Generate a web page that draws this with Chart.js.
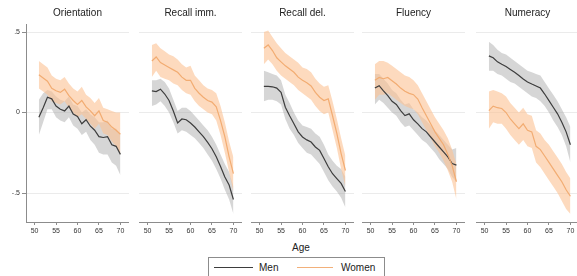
<!DOCTYPE html>
<html>
<head>
<meta charset="utf-8">
<script src="https://cdn.jsdelivr.net/npm/chart.js@4"></script>
<style>
  html, body { margin: 0; padding: 0; background: #fff; }
  body { width: 577px; height: 276px; position: relative; overflow: hidden; font-family: "Liberation Sans", Arial, sans-serif; }
  canvas { position: absolute; top: 0; }
  .ttl { position: absolute; top: 7px; font-size: 10px; line-height: 12px; color: #222; text-align: center; width: 120px; }
  #age { position: absolute; left: 271px; top: 242px; width: 60px; text-align: center; font-size: 10px; line-height: 12px; color: #222; }
  #legend { position: absolute; left: 208px; top: 257px; width: 177px; height: 28px; border: 1px solid #8c8c8c; box-sizing: border-box; }
  .lline { position: absolute; top: 9px; height: 0; border-top: 1.2px solid; }
  .ltxt { position: absolute; top: 4px; font-size: 10px; line-height: 12px; color: #222; }
</style>
</head>
<body>
<div id="age">Age</div>
<div id="legend">
  <div class="lline" style="left:5px;width:39px;border-color:#3d3d3d"></div>
  <div class="ltxt" style="left:50px">Men</div>
  <div class="lline" style="left:88px;width:36px;border-color:#f2b07a"></div>
  <div class="ltxt" style="left:132px">Women</div>
</div>
<script>
// ---- data ----
const ages = [51,52,53,54,55,56,57,58,59,60,61,62,63,64,65,66,67,68,69,70];
const panelTitles = ["Orientation", "Recall imm.", "Recall del.", "Fluency", "Numeracy"];
const xTickValues = [50, 55, 60, 65, 70];
const yTickValues = [-0.5, 0, 0.5];
const yTickLabels = ["-.5", "0", ".5"];
const seriesNames = ["Men", "Women"];

// Orientation
const orientMen     = [-0.03, 0.03, 0.095, 0.085, 0.04, 0.02, 0.01, 0.04, -0.01, -0.025, -0.07, -0.045, -0.085, -0.11, -0.15, -0.155, -0.15, -0.2, -0.21, -0.26];
const orientMenHi   = [0.08, 0.12, 0.14, 0.13, 0.1, 0.08, 0.07, 0.1, 0.05, 0.04, 0.0, 0.02, -0.01, -0.03, -0.06, -0.06, -0.05, -0.1, -0.1, -0.14];
const orientMenLo   = [-0.14, -0.06, 0.02, 0.02, -0.03, -0.05, -0.06, -0.03, -0.08, -0.1, -0.14, -0.12, -0.17, -0.2, -0.25, -0.26, -0.26, -0.31, -0.33, -0.39];
const orientWomen   = [0.235, 0.215, 0.195, 0.15, 0.135, 0.125, 0.145, 0.105, 0.075, 0.05, 0.075, 0.035, 0.01, -0.02, 0.01, -0.05, -0.06, -0.09, -0.11, -0.135];
const orientWomenHi = [0.32, 0.3, 0.28, 0.23, 0.21, 0.2, 0.22, 0.18, 0.15, 0.13, 0.16, 0.11, 0.09, 0.06, 0.09, 0.03, 0.02, 0.01, 0.0, 0.0];
const orientWomenLo = [0.15, 0.13, 0.11, 0.07, 0.06, 0.05, 0.07, 0.03, 0.0, -0.03, -0.01, -0.04, -0.07, -0.1, -0.07, -0.13, -0.14, -0.18, -0.21, -0.26];

// Recall immediate
const recImmMen     = [0.135, 0.13, 0.145, 0.115, 0.075, 0.01, -0.065, -0.04, -0.045, -0.065, -0.09, -0.12, -0.15, -0.185, -0.225, -0.275, -0.335, -0.4, -0.45, -0.54];
const recImmMenHi   = [0.2, 0.2, 0.21, 0.19, 0.15, 0.08, 0.01, 0.03, 0.03, 0.01, -0.02, -0.05, -0.08, -0.11, -0.15, -0.2, -0.26, -0.32, -0.37, -0.46];
const recImmMenLo   = [0.04, 0.05, 0.07, 0.04, 0.0, -0.06, -0.13, -0.11, -0.12, -0.14, -0.16, -0.19, -0.22, -0.26, -0.3, -0.35, -0.41, -0.48, -0.54, -0.63];
const recImmWomen   = [0.32, 0.345, 0.31, 0.295, 0.28, 0.265, 0.25, 0.22, 0.2, 0.2, 0.15, 0.12, 0.095, 0.075, 0.065, 0.035, -0.05, -0.15, -0.275, -0.38];
const recImmWomenHi = [0.42, 0.43, 0.4, 0.38, 0.36, 0.35, 0.33, 0.3, 0.28, 0.29, 0.23, 0.2, 0.17, 0.15, 0.14, 0.12, 0.04, -0.06, -0.18, -0.28];
const recImmWomenLo = [0.22, 0.26, 0.22, 0.21, 0.2, 0.18, 0.17, 0.14, 0.12, 0.11, 0.07, 0.04, 0.02, 0.0, -0.01, -0.05, -0.14, -0.25, -0.37, -0.49];

// Recall delayed
const recDelMen     = [0.163, 0.163, 0.16, 0.152, 0.126, 0.033, -0.02, -0.07, -0.12, -0.152, -0.17, -0.183, -0.214, -0.235, -0.286, -0.337, -0.38, -0.41, -0.44, -0.49];
const recDelMenHi   = [0.26, 0.25, 0.24, 0.23, 0.2, 0.11, 0.06, 0.0, -0.05, -0.08, -0.09, -0.1, -0.13, -0.15, -0.2, -0.26, -0.3, -0.33, -0.35, -0.4];
const recDelMenLo   = [0.07, 0.08, 0.08, 0.07, 0.05, -0.04, -0.1, -0.14, -0.19, -0.22, -0.25, -0.26, -0.29, -0.32, -0.37, -0.42, -0.46, -0.49, -0.53, -0.59];
const recDelWomen   = [0.4, 0.42, 0.385, 0.34, 0.315, 0.29, 0.27, 0.25, 0.22, 0.2, 0.185, 0.165, 0.125, 0.095, 0.075, 0.085, -0.02, -0.13, -0.255, -0.36];
const recDelWomenHi = [0.5, 0.51, 0.47, 0.43, 0.4, 0.37, 0.35, 0.33, 0.31, 0.28, 0.27, 0.25, 0.21, 0.18, 0.16, 0.17, 0.07, -0.04, -0.16, -0.27];
const recDelWomenLo = [0.3, 0.33, 0.3, 0.26, 0.23, 0.21, 0.19, 0.17, 0.14, 0.12, 0.1, 0.08, 0.04, 0.01, -0.01, 0.0, -0.11, -0.22, -0.35, -0.46];

// Fluency
const fluMen     = [0.152, 0.167, 0.135, 0.105, 0.07, 0.05, 0.012, -0.019, -0.008, -0.045, -0.07, -0.1, -0.12, -0.152, -0.183, -0.214, -0.245, -0.276, -0.317, -0.327];
const fluMenHi   = [0.24, 0.24, 0.21, 0.18, 0.14, 0.12, 0.08, 0.05, 0.06, 0.02, 0.0, -0.03, -0.05, -0.08, -0.11, -0.14, -0.17, -0.2, -0.23, -0.22];
const fluMenLo   = [0.05, 0.08, 0.06, 0.03, 0.0, -0.02, -0.06, -0.09, -0.08, -0.11, -0.14, -0.17, -0.19, -0.22, -0.25, -0.29, -0.32, -0.35, -0.4, -0.43];
const fluWomen   = [0.2, 0.218, 0.21, 0.218, 0.198, 0.177, 0.152, 0.132, 0.119, 0.111, 0.084, 0.03, -0.02, -0.07, -0.12, -0.16, -0.2, -0.26, -0.33, -0.43];
const fluWomenHi = [0.3, 0.32, 0.32, 0.31, 0.29, 0.27, 0.25, 0.23, 0.22, 0.2, 0.17, 0.12, 0.07, 0.02, -0.03, -0.07, -0.11, -0.16, -0.23, -0.32];
const fluWomenLo = [0.08, 0.11, 0.11, 0.12, 0.1, 0.08, 0.06, 0.04, 0.03, 0.02, -0.01, -0.06, -0.11, -0.16, -0.21, -0.25, -0.3, -0.36, -0.43, -0.54];

// Numeracy
const numMen     = [0.352, 0.34, 0.315, 0.3, 0.286, 0.268, 0.25, 0.23, 0.208, 0.19, 0.177, 0.165, 0.152, 0.115, 0.074, 0.033, -0.008, -0.06, -0.12, -0.2];
const numMenHi   = [0.44, 0.42, 0.39, 0.37, 0.36, 0.34, 0.32, 0.3, 0.28, 0.26, 0.25, 0.24, 0.23, 0.19, 0.15, 0.11, 0.07, 0.02, -0.03, -0.09];
const numMenLo   = [0.26, 0.26, 0.24, 0.23, 0.21, 0.19, 0.18, 0.16, 0.14, 0.12, 0.1, 0.09, 0.07, 0.04, 0.0, -0.05, -0.09, -0.14, -0.21, -0.31];
const numWomen   = [0.012, 0.04, 0.03, 0.025, 0.0, -0.04, -0.07, -0.1, -0.07, -0.11, -0.12, -0.21, -0.23, -0.27, -0.31, -0.35, -0.39, -0.43, -0.48, -0.52];
const numWomenHi = [0.13, 0.14, 0.13, 0.12, 0.1, 0.06, 0.03, 0.0, 0.03, -0.01, -0.02, -0.11, -0.13, -0.17, -0.2, -0.24, -0.28, -0.32, -0.37, -0.41];
const numWomenLo = [-0.1, -0.06, -0.07, -0.07, -0.1, -0.14, -0.17, -0.2, -0.17, -0.21, -0.22, -0.31, -0.34, -0.38, -0.42, -0.46, -0.5, -0.55, -0.6, -0.63];

const panelSeries = [
  [orientMen, orientMenLo, orientMenHi, orientWomen, orientWomenLo, orientWomenHi],
  [recImmMen, recImmMenLo, recImmMenHi, recImmWomen, recImmWomenLo, recImmWomenHi],
  [recDelMen, recDelMenLo, recDelMenHi, recDelWomen, recDelWomenLo, recDelWomenHi],
  [fluMen, fluMenLo, fluMenHi, fluWomen, fluWomenLo, fluWomenHi],
  [numMen, numMenLo, numMenHi, numWomen, numWomenLo, numWomenHi]
];

// ---- layout / style ----
const plotLefts = [26, 139, 251, 362, 476];
const plotWidth = 103;
const MEN_LINE = '#3d3d3d';
const WOMEN_LINE = '#f2ac72';
const MEN_BAND = 'rgba(165,165,165,0.45)';
const WOMEN_BAND = 'rgba(251,196,150,0.62)';
const AXIS = '#8c8c8c';
const FONT = '"Liberation Sans", Arial, sans-serif';

const pts = arr => ages.map((a, i) => ({ x: a, y: arr[i] }));

panelSeries.forEach((s, idx) => {
  const [m, mLo, mHi, w, wLo, wHi] = s;
  const yw = idx === 0 ? 26 : 0;
  const cv = document.createElement('canvas');
  cv.width = yw + plotWidth;
  cv.height = 276;
  cv.style.left = (plotLefts[idx] - yw) + 'px';
  cv.style.width = cv.width + 'px';
  cv.style.height = '276px';
  document.body.appendChild(cv);

  const t = document.createElement('div');
  t.className = 'ttl';
  t.textContent = panelTitles[idx];
  t.style.left = (plotLefts[idx] + plotWidth / 2 - 60) + 'px';
  document.body.appendChild(t);

  const band = (arr, color, fill, order) => ({
    data: pts(arr), fill: fill, backgroundColor: color, borderWidth: 0,
    borderColor: 'rgba(0,0,0,0)', pointRadius: 0, order: order
  });

  new Chart(cv, {
    type: 'line',
    data: {
      datasets: [
        band(mHi, MEN_BAND, '+1', 3),
        band(mLo, MEN_BAND, false, 3),
        band(wHi, WOMEN_BAND, '+1', 2),
        band(wLo, WOMEN_BAND, false, 2),
        { label: seriesNames[0], data: pts(m), borderColor: MEN_LINE, borderWidth: 1.2, pointRadius: 0, fill: false, order: 1 },
        { label: seriesNames[1], data: pts(w), borderColor: WOMEN_LINE, borderWidth: 1.2, pointRadius: 0, fill: false, order: 0 }
      ]
    },
    options: {
      responsive: false,
      animation: false,
      devicePixelRatio: 1,
      layout: { padding: { top: 24, left: 0, right: 0, bottom: 0 } },
      plugins: { legend: { display: false }, title: { display: false }, tooltip: { enabled: false } },
      elements: { line: { tension: 0 } },
      scales: {
        x: {
          type: 'linear', min: 48, max: 72,
          afterBuildTicks: sc => { sc.ticks = xTickValues.map(v => ({ value: v })); },
          afterFit: sc => { sc.height = 54; },
          grid: { drawOnChartArea: false, drawTicks: true, tickLength: 3, color: AXIS },
          border: { display: true, color: AXIS, width: 1 },
          ticks: { font: { size: 7, family: FONT }, color: '#333', padding: 2, maxRotation: 0, autoSkip: false }
        },
        y: {
          type: 'linear', min: -0.68, max: 0.55,
          afterBuildTicks: sc => { sc.ticks = yTickValues.map(v => ({ value: v })); },
          afterFit: sc => { sc.width = yw; },
          grid: { color: '#ebebeb', drawTicks: idx === 0, tickLength: 4, tickColor: AXIS },
          border: { display: idx === 0, color: AXIS, width: 1 },
          ticks: {
            display: idx === 0, padding: 2, color: '#333', font: { size: 7, family: FONT },
            callback: v => { const k = yTickValues.indexOf(v); return k >= 0 ? yTickLabels[k] : ''; }
          }
        }
      }
    }
  });
});
</script>
</body>
</html>
